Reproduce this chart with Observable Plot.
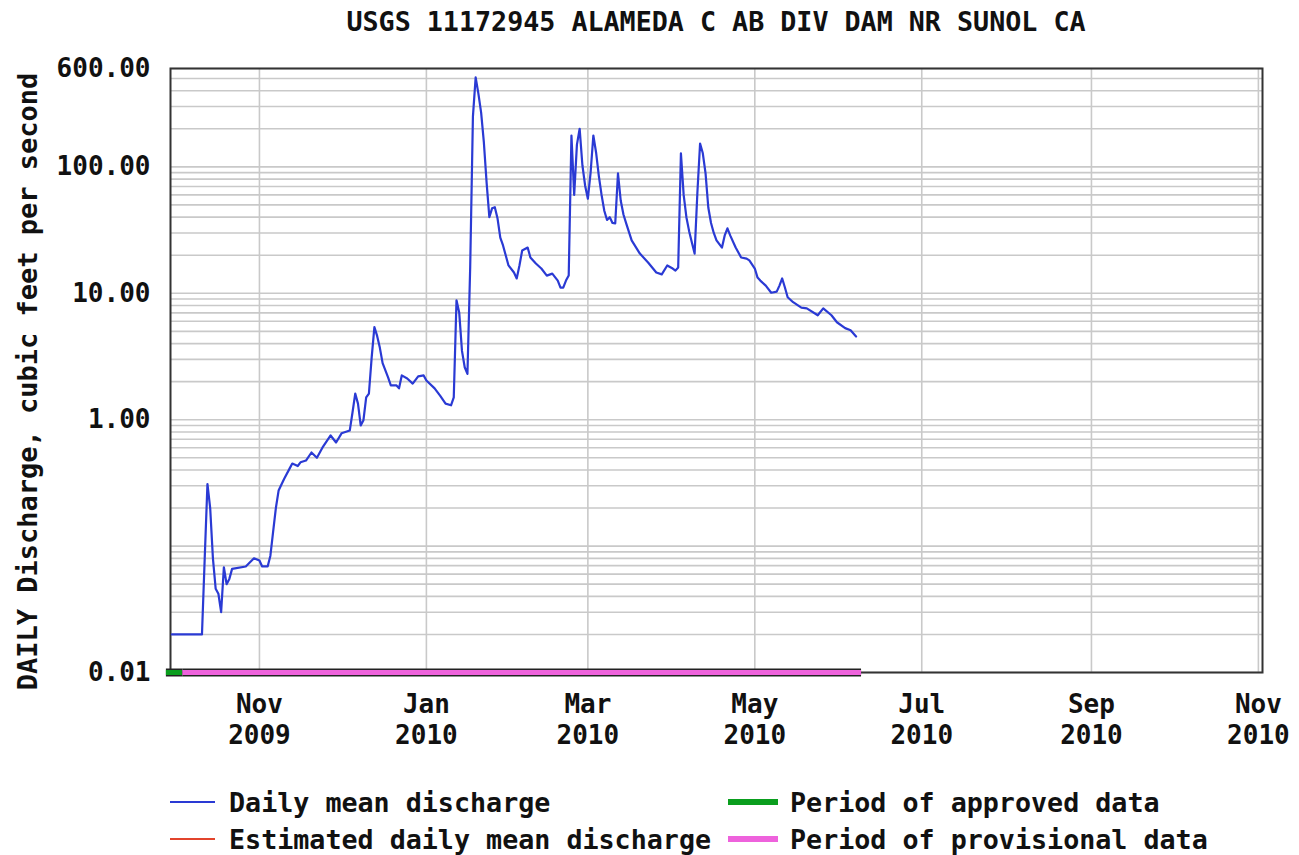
<!DOCTYPE html>
<html><head><meta charset="utf-8">
<script src="https://cdn.jsdelivr.net/npm/d3@7"></script>
<script src="https://cdn.jsdelivr.net/npm/@observablehq/plot@0.6"></script>
<style>
body{margin:0;background:#fff;font-family:"DejaVu Sans Mono",monospace;font-weight:bold;color:#111;}
#wrap{position:relative;width:1299px;height:855px;overflow:hidden;background:#fff}
#title{position:absolute;left:170px;width:1092px;top:0;height:44px;line-height:44px;text-align:center;font-size:26.7px;white-space:pre}
#chart{position:absolute;left:0;top:44px;}
.leg{position:absolute;font-size:26.7px;line-height:30px;height:30px;white-space:pre}
.sw{position:absolute}
</style></head>
<body><div id="wrap"><div id="title"></div><div id="chart"></div><div id="legend"></div></div>
<script>
const title = "USGS 11172945 ALAMEDA C AB DIV DAM NR SUNOL CA";
const yLabel = "DAILY Discharge, cubic feet per second";

const dates = [
"2009-09-30","2009-10-11","2009-10-12","2009-10-13","2009-10-14","2009-10-15","2009-10-16","2009-10-17","2009-10-18","2009-10-19","2009-10-20","2009-10-21","2009-10-22","2009-10-27","2009-10-30",
"2009-11-01","2009-11-02","2009-11-04","2009-11-05","2009-11-06","2009-11-07","2009-11-08","2009-11-10","2009-11-12","2009-11-13","2009-11-15","2009-11-16","2009-11-18","2009-11-20","2009-11-22","2009-11-24","2009-11-27","2009-11-29",
"2009-12-01","2009-12-04","2009-12-05","2009-12-06","2009-12-07","2009-12-08","2009-12-09","2009-12-10","2009-12-11","2009-12-12","2009-12-13","2009-12-14","2009-12-15","2009-12-16","2009-12-18","2009-12-19","2009-12-21","2009-12-22","2009-12-23","2009-12-25","2009-12-27","2009-12-29","2009-12-31",
"2010-01-01","2010-01-04","2010-01-06","2010-01-08","2010-01-10","2010-01-11","2010-01-12","2010-01-13","2010-01-14","2010-01-15","2010-01-16","2010-01-17","2010-01-18","2010-01-19","2010-01-20","2010-01-21","2010-01-22","2010-01-23","2010-01-24","2010-01-25","2010-01-26","2010-01-27","2010-01-28","2010-01-29","2010-01-30","2010-01-31",
"2010-02-02","2010-02-03","2010-02-04","2010-02-05","2010-02-07","2010-02-08","2010-02-10","2010-02-12","2010-02-14","2010-02-16","2010-02-18","2010-02-19","2010-02-20","2010-02-21","2010-02-22","2010-02-23","2010-02-24","2010-02-25","2010-02-26","2010-02-27","2010-02-28",
"2010-03-01","2010-03-02","2010-03-03","2010-03-04","2010-03-05","2010-03-06","2010-03-07","2010-03-08","2010-03-09","2010-03-10","2010-03-11","2010-03-12","2010-03-13","2010-03-14","2010-03-15","2010-03-17","2010-03-20","2010-03-23","2010-03-26","2010-03-28","2010-03-30",
"2010-04-01","2010-04-02","2010-04-03","2010-04-04","2010-04-05","2010-04-06","2010-04-07","2010-04-08","2010-04-09","2010-04-10","2010-04-11","2010-04-12","2010-04-13","2010-04-14","2010-04-15","2010-04-16","2010-04-17","2010-04-19","2010-04-20","2010-04-21","2010-04-22","2010-04-24","2010-04-26","2010-04-28","2010-04-29",
"2010-05-01","2010-05-02","2010-05-03","2010-05-05","2010-05-07","2010-05-09","2010-05-10","2010-05-11","2010-05-12","2010-05-13","2010-05-15","2010-05-18","2010-05-20","2010-05-24","2010-05-26","2010-05-29","2010-05-31",
"2010-06-03","2010-06-05","2010-06-07"
];
const discharge = [
0.02,0.02,0.08,0.31,0.2,0.08,0.046,0.042,0.03,0.068,0.05,0.055,0.066,0.069,0.08,
0.077,0.069,0.069,0.084,0.13,0.2,0.275,0.34,0.41,0.45,0.43,0.46,0.475,0.55,0.5,0.6,0.75,0.66,
0.78,0.82,1.14,1.61,1.34,0.9,0.99,1.5,1.61,3.1,5.4,4.6,3.7,2.8,2.16,1.87,1.87,1.77,2.24,2.12,1.93,2.2,2.24,
2.04,1.77,1.55,1.34,1.3,1.5,8.8,7.0,3.5,2.6,2.3,16,250,510,380,269,156,75,40,47,48,39,27.6,23.9,19.9,16.6,
14.6,13.1,16.6,21.8,23,19.2,17.2,15.7,13.8,14.3,12.6,11.1,11.1,12.6,13.8,177,60,150,200,103,71,
56,90,177,130,85,60,45,38,40,36,35.7,88.7,54.2,42,35.7,26.2,20.6,17.5,14.6,14.1,16.6,
15.7,15.1,16,128,60,40,31,25.2,20.6,61.6,153,128,88.7,47.7,36,30,26.2,23,28.7,32.6,28.7,23,19.2,18.8,18.2,
15.7,13.3,12.6,11.5,10.1,10.3,11.5,13.1,11.1,9.3,8.5,7.7,7.6,6.7,7.6,6.7,5.9,
5.3,5.1,4.55
];

const periodNames = ["Period of approved data", "Period of provisional data"];
const periodStart = ["2009-09-28", "2009-10-04"];
const periodEnd = ["2009-10-04", "2010-06-09"];
const periodColors = ["#0a9e1e", "#ee62dc"];

const yTicks = [0.01, 1, 10, 100, 600];
const yTickLabels = ["0.01", "1.00", "10.00", "100.00", "600.00"];
const xTicks = ["2009-11-01","2010-01-01","2010-03-01","2010-05-01","2010-07-01","2010-09-01","2010-11-01"].map(d => new Date(d));
const xDomain = [new Date("2009-09-29T12:00Z"), new Date("2010-11-02T12:00Z")];
const yDomain = [0.01, 600];

const legendLabels = ["Daily mean discharge", "Estimated daily mean discharge", "Period of approved data", "Period of provisional data"];
const legendColors = ["#2a3ad4", "#e2442c", "#0a9e1e", "#ee62dc"];

// minor log grid lines (1..9 per decade)
const yGrid = [];
for (let e = -2; e <= 2; e++) for (let m = 1; m <= 9; m++) { const v = +(m * Math.pow(10, e)).toPrecision(3); if (v <= 600) yGrid.push(v); }

const data = dates.map((d, i) => ({date: new Date(d), q: discharge[i]}));
const periods = periodNames.map((n, i) => ({name: n, start: new Date(periodStart[i]), end: new Date(periodEnd[i]), level: 0.01, color: periodColors[i]}));
const yTickData = yTicks.map((v, i) => ({v, label: yTickLabels[i]}));

document.getElementById("title").textContent = title;

const fmtM = d3.utcFormat("%b"), fmtY = d3.utcFormat("%Y");
const plot = Plot.plot({
  width: 1299, height: 730,
  marginLeft: 170, marginRight: 37, marginTop: 24, marginBottom: 102,
  style: {fontFamily: "DejaVu Sans Mono", fontSize: "26px", fontWeight: "bold", color: "#111", background: "#fff", overflow: "visible"},
  x: {type: "utc", domain: xDomain},
  y: {type: "log", domain: yDomain, axis: null},
  marks: [
    Plot.gridY({ticks: yGrid, stroke: "#c9c9c9", strokeOpacity: 1, strokeWidth: 1.6}),
    Plot.gridX({ticks: xTicks, stroke: "#c9c9c9", strokeOpacity: 1, strokeWidth: 1.6}),
    Plot.frame({stroke: "#333", strokeWidth: 2}),
    Plot.line(data, {x: "date", y: "q", stroke: legendColors[0], strokeWidth: 2.2}),
    Plot.ruleY(periods, {x1: "start", x2: "end", y: "level", stroke: "#222", strokeWidth: 8}),
    Plot.ruleY(periods, {x1: "start", x2: "end", y: "level", stroke: "color", strokeWidth: 5}),
    // y tick labels positioned by the y scale
    Plot.text(yTickData, {y: "v", text: "label", frameAnchor: "left", textAnchor: "end", dx: -20, fontSize: 26, fill: "#111"}),
    Plot.axisX({ticks: xTicks, tickFormat: fmtM, tickSize: 0, tickPadding: 22, label: null, fontSize: 26}),
    Plot.axisX({ticks: xTicks, tickFormat: fmtY, tickSize: 0, tickPadding: 53, label: null, fontSize: 26}),
    Plot.text([yLabel], {frameAnchor: "left", rotate: -90, dx: -142, dy: 11, fontSize: 27, textAnchor: "middle", fill: "#111"})
  ]
});
document.getElementById("chart").appendChild(plot);

// legend
const leg = document.getElementById("legend");
const pos = [[170, 803], [170, 840], [728, 803], [728, 840]];
legendLabels.forEach((lab, i) => {
  const [x, y] = pos[i];
  const thick = i >= 2;
  const sw = document.createElement("div");
  sw.className = "sw";
  const w = thick ? 50 : 45, h = thick ? 6 : 2;
  sw.style.cssText = `left:${x}px;top:${y - h/2 - 1}px;width:${w}px;height:${h}px;background:${legendColors[i]}`;
  leg.appendChild(sw);
  const t = document.createElement("div");
  t.className = "leg";
  t.textContent = lab;
  t.style.left = (thick ? x + 62 : x + 59) + "px";
  t.style.top = (y - 15) + "px";
  leg.appendChild(t);
});
</script></body></html>
